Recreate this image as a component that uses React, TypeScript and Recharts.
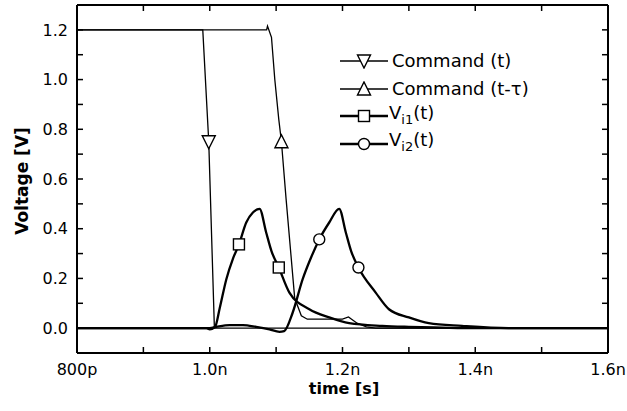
import React from "react";
import { LineChart, Line, XAxis, YAxis, Label } from "recharts";

// time in ns, voltage in V
const cmdT = [0.8, 0.9895, 0.9985, 1.007, 1.6];
const cmdV = [1.2, 1.2, 0.75, 0.0, 0.0];
const cmdMarks = [0.9985];

const cmdDelT = [0.8, 1.0857, 1.087, 1.093, 1.098, 1.104, 1.108, 1.115, 1.128, 1.138, 1.147, 1.2, 1.209, 1.222, 1.236, 1.25, 1.6];
const cmdDelV = [1.2, 1.2, 1.215, 1.17, 1.0, 0.84, 0.75, 0.52, 0.12, 0.05, 0.036, 0.036, 0.045, 0.02, 0.005, 0.0, 0.0];
const cmdDelMarks = [1.108];

const vi1T = [0.8, 0.995, 1.0, 1.008, 1.015, 1.025, 1.035, 1.044, 1.055, 1.065, 1.075, 1.085, 1.093, 1.104, 1.12, 1.15, 1.18, 1.21, 1.26, 1.3, 1.35, 1.4, 1.6];
const vi1V = [0, 0, -0.005, 0.005, 0.08, 0.197, 0.28, 0.337, 0.425, 0.465, 0.48, 0.385, 0.31, 0.244, 0.143, 0.076, 0.043, 0.02, 0.009, 0.005, 0.002, 0, 0];
const vi1Marks = [1.044, 1.104];

const vi2T = [0.8, 1.0, 1.01, 1.03, 1.05, 1.07, 1.09, 1.105, 1.112, 1.125, 1.14, 1.152, 1.165, 1.18, 1.195, 1.205, 1.213, 1.224, 1.25, 1.27, 1.3, 1.33, 1.38, 1.45, 1.6];
const vi2V = [0, 0, 0.005, 0.012, 0.012, 0.005, -0.005, -0.015, -0.012, 0.063, 0.197, 0.28, 0.357, 0.425, 0.48, 0.385, 0.31, 0.244, 0.143, 0.076, 0.043, 0.02, 0.009, 0, 0];
const vi2Marks = [1.165, 1.224];

const xTicks = [0.8, 0.9, 1.0, 1.1, 1.2, 1.3, 1.4, 1.5, 1.6];
const xTickLabels = ["800p", "", "1.0n", "", "1.2n", "", "1.4n", "", "1.6n"];
const yTicks = [0, 0.1, 0.2, 0.3, 0.4, 0.5, 0.6, 0.7, 0.8, 0.9, 1.0, 1.1, 1.2];

const zip = (t: number[], v: number[]) => t.map((x, i) => ({ t: x, v: v[i] }));

type Shape = "down" | "up" | "square" | "circle";

function Marker({ shape, cx, cy }: { shape: Shape; cx: number; cy: number }) {
  const common = { fill: "#fff", stroke: "#000", strokeWidth: 1.4 };
  if (shape === "down")
    return <polygon points={`${cx - 6.5},${cy - 6} ${cx + 6.5},${cy - 6} ${cx},${cy + 7}`} {...common} />;
  if (shape === "up")
    return <polygon points={`${cx - 6.5},${cy + 6} ${cx + 6.5},${cy + 6} ${cx},${cy - 7}`} {...common} />;
  if (shape === "square")
    return <rect x={cx - 5.5} y={cy - 5.5} width={11} height={11} {...common} />;
  return <circle cx={cx} cy={cy} r={5.5} {...common} />;
}

const makeDot = (shape: Shape, marks: number[]) => (props: any) => {
  const { cx, cy, payload, index } = props;
  if (!marks.includes(payload.t)) return <g key={`n${index}`} />;
  return (
    <g key={`m${index}`}>
      <Marker shape={shape} cx={cx} cy={cy} />
    </g>
  );
};

const font = "'DejaVu Sans', sans-serif";
const axisLine = { stroke: "#000", strokeWidth: 2 };
const TICK = 6;
const X_GAP = 12;
const Y_GAP = 9;

const xLabel = (v: number) => xTickLabels[xTicks.findIndex((x) => Math.abs(x - v) < 1e-6)] ?? "";
const yLabel = (v: number) => (Math.round(v * 10) % 2 === 0 ? v.toFixed(1) : "");

// inward ticks drawn with the labels
const BottomTick = (p: any) => (
  <g>
    <line x1={p.x} x2={p.x} y1={p.y - X_GAP} y2={p.y - X_GAP - TICK} stroke="#000" strokeWidth={1.5} />
    <text x={p.x} y={p.y - 1} dy="0.71em" textAnchor="middle" fontSize={16} fontFamily={font} fill="#000">
      {xLabel(p.payload.value)}
    </text>
  </g>
);
const TopTick = (p: any) => (
  <line x1={p.x} x2={p.x} y1={p.y} y2={p.y + TICK} stroke="#000" strokeWidth={1.5} />
);
const LeftTick = (p: any) => (
  <g>
    <line x1={p.x + Y_GAP} x2={p.x + Y_GAP + TICK} y1={p.y} y2={p.y} stroke="#000" strokeWidth={1.5} />
    <text x={p.x} y={p.y} dy="0.36em" textAnchor="end" fontSize={16} fontFamily={font} fill="#000">
      {yLabel(p.payload.value)}
    </text>
  </g>
);
const RightTick = (p: any) => (
  <line x1={p.x} x2={p.x - TICK} y1={p.y} y2={p.y} stroke="#000" strokeWidth={1.5} />
);

const legendRows: { shape: Shape; thick: boolean; label: React.ReactNode }[] = [
  { shape: "down", thick: false, label: "Command (t)" },
  { shape: "up", thick: false, label: "Command (t-\u03c4)" },
  { shape: "square", thick: true, label: <>V<sub style={{ fontSize: 13 }}>i1</sub>(t)</> },
  { shape: "circle", thick: true, label: <>V<sub style={{ fontSize: 13 }}>i2</sub>(t)</> },
];

export default function App() {
  return (
    <div style={{ position: "absolute", left: 0, top: 0, width: 627, height: 411, background: "#fff", fontFamily: font }}>
      <LineChart width={627} height={411} margin={{ top: 4, right: 18, bottom: 0, left: 17 }}>
        <XAxis
          xAxisId="b"
          type="number"
          dataKey="t"
          domain={[0.8, 1.6]}
          ticks={xTicks}
          allowDataOverflow
          height={58}
          tickSize={0}
          tickMargin={X_GAP}
          tick={<BottomTick />}
          tickLine={false}
          axisLine={axisLine}
          interval={0}
        >
          <Label
            content={() => (
              <text x={344} y={394} textAnchor="middle" fontFamily={font} fontWeight="bold" fontSize={16} fill="#000">
                time [s]
              </text>
            )}
          />
        </XAxis>
        <XAxis
          xAxisId="top"
          orientation="top"
          type="number"
          dataKey="t"
          domain={[0.8, 1.6]}
          ticks={xTicks}
          allowDataOverflow
          height={1}
          tickSize={0}
          tickMargin={0}
          tick={<TopTick />}
          tickLine={false}
          axisLine={axisLine}
          interval={0}
        />
        <YAxis
          yAxisId="l"
          type="number"
          domain={[-0.1, 1.3]}
          ticks={yTicks}
          allowDataOverflow
          width={60}
          tickSize={0}
          tickMargin={Y_GAP}
          tick={<LeftTick />}
          tickLine={false}
          axisLine={axisLine}
          interval={0}
        >
          <Label
            content={() => (
              <text
                x={28}
                y={181}
                transform="rotate(-90 28 181)"
                textAnchor="middle"
                fontFamily={font}
                fontWeight="bold"
                fontSize={17}
                fill="#000"
              >
                Voltage [V]
              </text>
            )}
          />
        </YAxis>
        <YAxis
          yAxisId="r"
          orientation="right"
          type="number"
          domain={[-0.1, 1.3]}
          ticks={yTicks}
          allowDataOverflow
          width={1}
          tickSize={0}
          tickMargin={0}
          tick={<RightTick />}
          tickLine={false}
          axisLine={axisLine}
          interval={0}
        />
        {/* same domains as bottom/left, so this series also gives the frame axes their ticks */}
        <Line
          xAxisId="top"
          yAxisId="r"
          data={zip(cmdT, cmdV)}
          dataKey="v"
          type="linear"
          stroke="#000"
          strokeWidth={1.3}
          dot={makeDot("down", cmdMarks)}
          activeDot={false}
          isAnimationActive={false}
        />
        <Line
          xAxisId="b"
          yAxisId="l"
          data={zip(cmdDelT, cmdDelV)}
          dataKey="v"
          type="linear"
          stroke="#000"
          strokeWidth={1.3}
          dot={makeDot("up", cmdDelMarks)}
          activeDot={false}
          isAnimationActive={false}
        />
        <Line
          xAxisId="b"
          yAxisId="l"
          data={zip(vi1T, vi1V)}
          dataKey="v"
          type="monotone"
          stroke="#000"
          strokeWidth={2.3}
          dot={makeDot("square", vi1Marks)}
          activeDot={false}
          isAnimationActive={false}
        />
        <Line
          xAxisId="b"
          yAxisId="l"
          data={zip(vi2T, vi2V)}
          dataKey="v"
          type="monotone"
          stroke="#000"
          strokeWidth={2.3}
          dot={makeDot("circle", vi2Marks)}
          activeDot={false}
          isAnimationActive={false}
        />
      </LineChart>
      {legendRows.map((r, i) => (
        <div
          key={i}
          style={{
            position: "absolute",
            left: 339,
            top: 61 + i * 27.5 - 13,
            height: 26,
            display: "flex",
            alignItems: "center",
            fontSize: 18,
            lineHeight: "26px",
            color: "#000",
            whiteSpace: "nowrap",
          }}
        >
          <svg width={50} height={16} style={{ display: "block" }}>
            <line x1={1} y1={8} x2={49} y2={8} stroke="#000" strokeWidth={r.thick ? 2.3 : 1.3} />
            <Marker shape={r.shape} cx={25} cy={8} />
          </svg>
          <span style={{ marginLeft: r.thick ? 0 : 3 }}>{r.label}</span>
        </div>
      ))}
    </div>
  );
}
